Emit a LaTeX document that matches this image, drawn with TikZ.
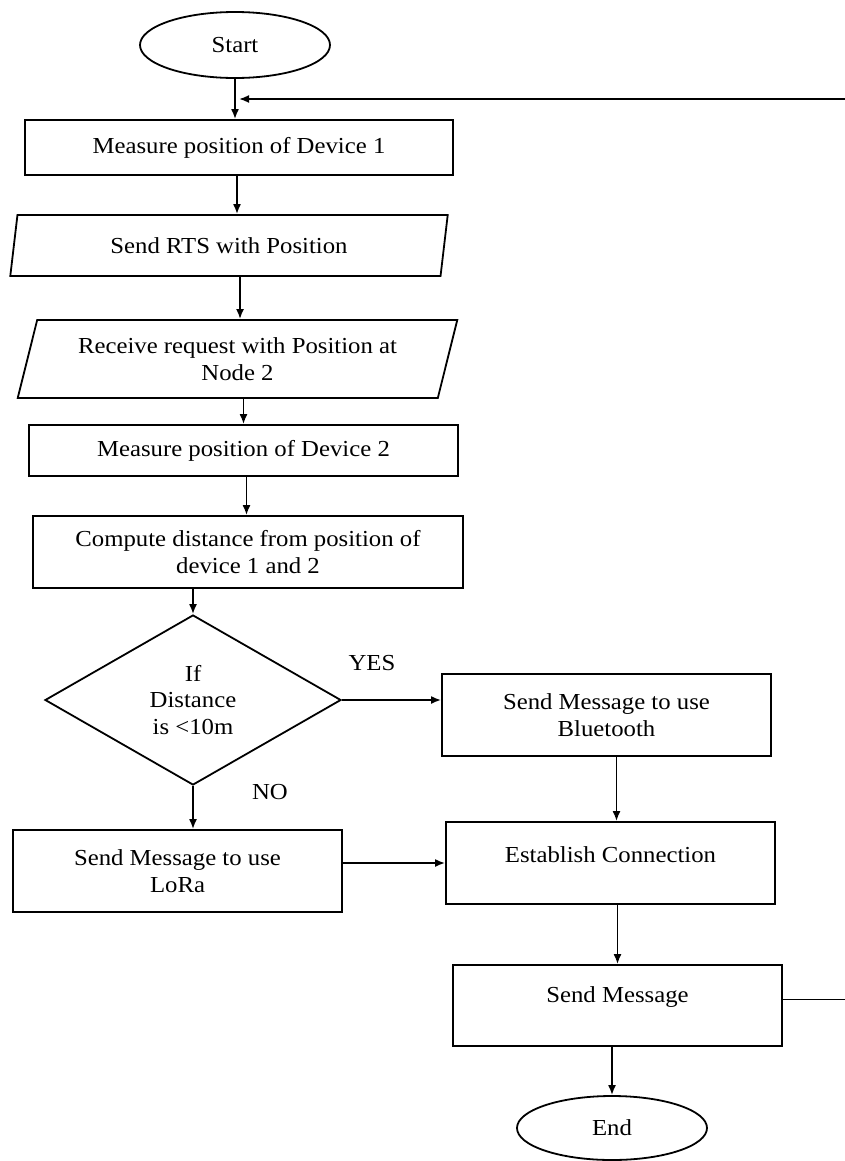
\documentclass[tikz,border=0pt]{standalone}
\usepackage{fontspec}
\setmainfont{Liberation Serif}[FakeStretch=1.08]
\usetikzlibrary{shapes.geometric,arrows.meta}
\begin{document}
\begin{tikzpicture}[x=1bp,y=-1bp,
  txt/.style={font=\fontsize{23}{26.5}\selectfont, align=center, text=black},
  shp/.style={draw=black, line width=1.8bp, inner sep=0pt, txt},
  procbox/.style={shp, rectangle},
  iobox/.style={shp, trapezium, trapezium stretches=true},
  term/.style={shp, ellipse},
  decide/.style={shp, diamond},
  arr/.style={line width=1.8bp, -{Latex[length=10bp,width=8bp]}},
  lbl/.style={txt}]
\useasboundingbox (0,0) rectangle (845,1161);
\clip (0,0) rectangle (845,1161);
\fill[white] (0,0) rectangle (845,1161);

\node[term, minimum width=190bp, minimum height=66bp] (start) at (235,45) {Start};
\node[procbox, minimum width=428bp, minimum height=55bp] (m1) at (239,147.5) {Measure position of Device 1};
\node[iobox, trapezium left angle=76, trapezium right angle=104, minimum width=438bp, minimum height=61bp] (rts) at (229,245.5) {Send RTS with Position};
\node[iobox, trapezium left angle=70, trapezium right angle=110, minimum width=441bp, minimum height=78bp] (recv) at (237.5,359) {Receive request with Position at\\Node 2};
\node[procbox, minimum width=429bp, minimum height=51bp] (m2) at (243.5,450.5) {Measure position of Device 2};
\node[procbox, minimum width=430bp, minimum height=72bp] (comp) at (248,552) {Compute distance from position of\\device 1 and 2};
\node[decide, aspect=1.74, minimum width=296bp, minimum height=170bp] (dec) at (193,700) {If\\Distance\\is <10m};
\node[procbox, minimum width=329bp, minimum height=82bp] (bt) at (606.5,715) {Send Message to use\\Bluetooth};
\node[procbox, minimum width=329bp, minimum height=82bp] (lora) at (177.5,871) {Send Message to use\\LoRa};
\node[procbox, minimum width=329bp, minimum height=82bp, label={[txt,yshift=8bp]center:Establish Connection}] (est) at (610.5,863) {};
\node[procbox, minimum width=329bp, minimum height=81bp, label={[txt,yshift=8bp]center:Send Message}] (sm) at (617.5,1005.5) {};
\node[term, minimum width=190bp, minimum height=64bp] (end) at (612,1128) {End};
\node[lbl] (yes) at (372,663) {YES};
\node[lbl] (no) at (270,792) {NO};
\coordinate (fbin) at (239,99);

\draw[arr] (start.south) -- (start.south |- m1.north);
\draw[arr] ([xshift=-2bp]m1.south) -- ([xshift=-2bp]m1.south |- rts.north);
\draw[arr] ([xshift=2.5bp]recv.north |- rts.south) -- ([xshift=2.5bp]recv.north);
\draw[arr] (m2.north |- recv.south) -- (m2.north);
\draw[arr] ([xshift=3bp]m2.south) -- ([xshift=3bp]m2.south |- comp.north);
\draw[arr] (dec.north |- comp.south) -- (dec.north);
\draw[arr] (dec.east) -- (dec.east -| bt.west);
\draw[arr] ([xshift=10bp]bt.south) -- ([xshift=10bp]bt.south |- est.north);
\draw[arr] (dec.south) -- (dec.south |- lora.north);
\draw[arr] (lora.east |- est.west) -- (est.west);
\draw[arr] (sm.north |- est.south) -- (sm.north);
\draw[arr] (end.north |- sm.south) -- (end.north);
\draw[arr] ([yshift=6bp]sm.east) -- ++(80,0) |- (fbin);
\end{tikzpicture}
\end{document}
